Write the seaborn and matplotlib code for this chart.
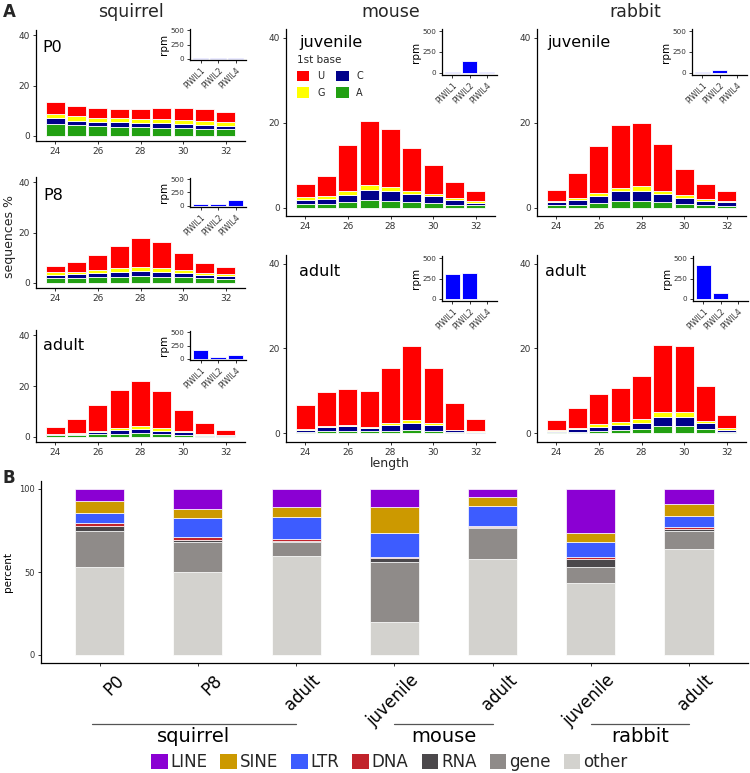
import numpy as np
import pandas as pd
import matplotlib
matplotlib.use("Agg")
import matplotlib.pyplot as plt
import matplotlib.patches as mpatches
import matplotlib.transforms as mtransforms
import seaborn as sns

# ── Data: panel A (% of sequences by length, split by 1st base) ──────────────
LENGTHS = list(range(24, 33))
BASES = ["U", "G", "C", "A"]
BASE_COLORS = {"U": "#FF0000", "G": "#FFFF00", "C": "#00008B", "A": "#22A012"}

sq_p0_A = [4.9, 4.2, 3.8, 3.6, 3.4, 3.3, 3.2, 2.9, 2.6]
sq_p0_C = [2.3, 1.9, 1.9, 1.8, 1.7, 1.7, 1.7, 1.6, 1.5]
sq_p0_G = [1.7, 1.8, 1.5, 1.6, 1.6, 1.6, 1.4, 1.4, 1.3]
sq_p0_U = [4.4, 3.8, 3.9, 3.8, 4.1, 4.6, 4.9, 4.6, 3.9]

sq_p8_A = [1.9, 2.1, 2.3, 2.5, 2.6, 2.5, 2.4, 2.0, 1.7]
sq_p8_C = [1.3, 1.3, 1.5, 1.9, 2.2, 2.0, 1.6, 1.2, 1.1]
sq_p8_G = [1.0, 1.1, 1.2, 1.4, 1.6, 1.5, 1.2, 0.9, 0.8]
sq_p8_U = [2.6, 3.7, 5.9, 8.9, 11.3, 10.3, 6.5, 3.7, 2.6]

sq_ad_A = [0.7, 0.8, 1.1, 1.3, 1.4, 1.3, 0.9, 0.5, 0.4]
sq_ad_C = [0.3, 0.5, 0.7, 1.3, 1.8, 1.2, 0.9, 0.4, 0.3]
sq_ad_G = [0.3, 0.4, 0.7, 1.0, 1.0, 0.9, 0.6, 0.4, 0.1]
sq_ad_U = [2.5, 5.4, 10.1, 15.0, 17.6, 14.6, 8.3, 4.0, 1.8]

mo_ju_A = [0.8, 0.8, 1.3, 1.8, 1.6, 1.3, 1.0, 0.7, 0.5]
mo_ju_C = [1.0, 1.2, 1.7, 2.3, 2.2, 1.8, 1.6, 1.0, 0.6]
mo_ju_G = [0.6, 0.7, 0.9, 1.2, 1.0, 0.7, 0.6, 0.5, 0.5]
mo_ju_U = [3.1, 4.6, 10.85, 15.1, 13.6, 10.2, 6.7, 3.9, 2.2]

mo_ad_A = [0.4, 0.5, 0.5, 0.5, 0.7, 0.9, 0.7, 0.3, 0.2]
mo_ad_C = [0.5, 1.1, 1.2, 0.9, 1.3, 1.6, 1.3, 0.5, 0.2]
mo_ad_G = [0.2, 0.2, 0.3, 0.2, 0.4, 0.6, 0.4, 0.1, 0.1]
mo_ad_U = [5.6, 8.0, 8.4, 8.4, 13.1, 17.5, 13.1, 6.3, 2.9]

ra_ju_A = [0.5, 0.7, 1.0, 1.5, 1.6, 1.2, 0.8, 0.5, 0.4]
ra_ju_C = [0.8, 1.0, 1.7, 2.3, 2.4, 1.9, 1.5, 1.0, 0.8]
ra_ju_G = [0.3, 0.5, 0.8, 0.9, 1.1, 0.9, 0.6, 0.5, 0.4]
ra_ju_U = [2.5, 5.8, 10.9, 14.6, 14.7, 10.9, 6.1, 3.6, 2.3]

ra_ad_A = [0.3, 0.4, 0.6, 0.8, 1.0, 1.8, 1.8, 1.0, 0.4]
ra_ad_C = [0.3, 0.6, 1.0, 1.2, 1.5, 2.0, 2.0, 1.4, 0.5]
ra_ad_G = [0.2, 0.4, 0.6, 0.6, 0.8, 1.3, 1.3, 0.6, 0.35]
ra_ad_U = [2.3, 4.6, 7.0, 8.1, 10.3, 15.8, 15.6, 8.2, 3.05]

# insets: PIWI expression (rpm)
PIWI = ["PIWIL1", "PIWIL2", "PIWIL4"]
sq_p0_rpm = [4, 4, 3]
sq_p8_rpm = [30, 37, 105]
sq_ad_rpm = [156, 37, 62]
mo_ju_rpm = [5, 139, 6]
mo_ad_rpm = [301, 320, 2]
ra_ju_rpm = [12, 32, 1]
ra_ad_rpm = [410, 74, 1]

# ── Data: panel B (annotation composition, percent) ─────────────────────────
SAMPLES = ["P0", "P8", "adult", "juvenile", "adult", "juvenile", "adult"]
SAMPLE_IDS = ["sq_P0", "sq_P8", "sq_adult", "mo_juvenile", "mo_adult", "ra_juvenile", "ra_adult"]
GROUPS = ["squirrel", "mouse", "rabbit"]
CLASSES = ["LINE", "SINE", "LTR", "DNA", "RNA", "gene", "other"]
CLASS_COLORS = {"LINE": "#8B00D3", "SINE": "#CC9900", "LTR": "#3D5CFF", "DNA": "#C1232B",
                "RNA": "#4B484B", "gene": "#8F8B89", "other": "#D3D2CE"}
pct_LINE = [7.4, 11.9, 10.9, 10.9, 4.8, 26.6, 9.1]
pct_SINE = [7.3, 5.6, 6.0, 15.7, 5.7, 5.6, 7.4]
pct_LTR = [6.0, 11.5, 13.1, 14.6, 11.8, 9.0, 6.6]
pct_DNA = [1.4, 1.6, 1.6, 0.4, 0.6, 0.9, 1.2]
pct_RNA = [3.1, 1.4, 0.4, 2.5, 0.6, 4.8, 1.1]
pct_gene = [21.9, 17.7, 8.6, 35.8, 18.6, 9.8, 10.6]
pct_other = [52.9, 50.3, 59.4, 20.1, 57.9, 43.3, 64.0]

# ── Style ────────────────────────────────────────────────────────────────────
TEXT = "#000000"
TICK = "#333333"
sns.set_style("ticks")
plt.rcParams.update({
    "font.family": "DejaVu Sans",
    "axes.linewidth": 0.9,
    "axes.edgecolor": "#000000",
    "xtick.color": TICK,
    "ytick.color": TICK,
    "xtick.major.size": 2.5,
    "ytick.major.size": 2.5,
    "xtick.major.width": 0.7,
    "ytick.major.width": 0.7,
    "xtick.major.pad": 2,
    "ytick.major.pad": 2,
})

W, H = 750, 773
fig = plt.figure(figsize=(7.5, 7.73), dpi=100)


def px_axes(x0, y0, x1, y1):
    return fig.add_axes([x0 / W, 1 - y1 / H, (x1 - x0) / W, (y1 - y0) / H])


def fig_text(x, y, s, **kw):
    fig.text(x / W, 1 - y / H, s, **kw)


def length_panel(box, a, c, g, u):
    ax = px_axes(*box)
    df = pd.DataFrame({
        "length": LENGTHS * 4,
        "base": ["A"] * 9 + ["C"] * 9 + ["G"] * 9 + ["U"] * 9,
        "pct": a + c + g + u,
    })
    sns.histplot(data=df, x="length", weights="pct", hue="base", hue_order=BASES,
                 multiple="stack", discrete=True, shrink=0.9, palette=BASE_COLORS,
                 edgecolor="white", linewidth=0.6, alpha=1, legend=False, ax=ax)
    ax.set_xlim(23.1, 32.9)
    ax.set_ylim(-2, 42)
    ax.set_xticks([24, 26, 28, 30, 32])
    ax.set_yticks([0, 20, 40])
    ax.tick_params(labelsize=6.5)
    ax.set_xlabel("")
    ax.set_ylabel("")
    ax.set_facecolor("none")
    sns.despine(ax=ax)
    return ax


def rpm_inset(box, vals):
    iax = px_axes(*box)
    sns.barplot(x=PIWI, y=vals, color="#0000FF", saturation=1, width=0.9,
                edgecolor="white", linewidth=0.6, ax=iax)
    iax.set_ylim(-25, 525)
    iax.set_xlim(-0.6, 2.6)
    iax.set_yticks([0, 250, 500])
    iax.tick_params(labelsize=5.2, length=2)
    iax.set_xticks(range(3))
    iax.set_xticklabels(PIWI, rotation=45, ha="right", va="top", rotation_mode="anchor",
                        fontsize=5.5)
    iax.set_ylabel("rpm", fontsize=7.5, labelpad=1, color=TEXT)
    iax.set_xlabel("")
    iax.set_facecolor("none")
    sns.despine(ax=iax)
    return iax


# ── Panel A ─────────────────────────────────────────────────────────────────
panels = [
    ((36, 30, 245, 141), (190, 29, 246, 60), sq_p0_A, sq_p0_C, sq_p0_G, sq_p0_U, sq_p0_rpm, "P0", (42, 47)),
    ((36, 177, 245, 288), (190, 178, 246, 207), sq_p8_A, sq_p8_C, sq_p8_G, sq_p8_U, sq_p8_rpm, "P8", (43, 195)),
    ((36, 330, 245, 442), (190, 331, 246, 360), sq_ad_A, sq_ad_C, sq_ad_G, sq_ad_U, sq_ad_rpm, "adult", (43, 346)),
    ((286, 29, 495, 216), (442, 29, 497, 75), mo_ju_A, mo_ju_C, mo_ju_G, mo_ju_U, mo_ju_rpm, "juvenile", (299, 43)),
    ((286, 255, 495, 442), (442, 256, 497, 301), mo_ad_A, mo_ad_C, mo_ad_G, mo_ad_U, mo_ad_rpm, "adult", (299, 272)),
    ((537, 29, 746, 216), (692, 29, 747, 75), ra_ju_A, ra_ju_C, ra_ju_G, ra_ju_U, ra_ju_rpm, "juvenile", (547, 43)),
    ((537, 255, 746, 442), (693, 256, 748, 301), ra_ad_A, ra_ad_C, ra_ad_G, ra_ad_U, ra_ad_rpm, "adult", (545, 272)),
]
axes_a = []
for box, ibox, a, c, g, u, rpm, label, (lx, ly) in panels:
    axes_a.append(length_panel(box, a, c, g, u))
    rpm_inset(ibox, rpm)
    fig_text(lx, ly, label, fontsize=11.5, ha="left", va="center", color=TEXT)

# column titles and axis labels
fig_text(131, 12, "squirrel", fontsize=12.5, ha="center", va="center")
fig_text(391, 12, "mouse", fontsize=12.5, ha="center", va="center")
fig_text(635, 12, "rabbit", fontsize=12.5, ha="center", va="center")
fig_text(10, 237, "sequences %", fontsize=9, rotation=90, ha="center", va="center")
fig_text(390, 463, "length", fontsize=9, ha="center", va="center")
fig_text(3, 12, "A", fontsize=12, fontweight="bold", ha="left", va="center")
fig_text(3, 478, "B", fontsize=12, fontweight="bold", ha="left", va="center")

# 1st base legend inside mouse juvenile
base_handles = [mpatches.Patch(facecolor=BASE_COLORS[b], edgecolor="none") for b in BASES]
fig.legend(base_handles, BASES, title="1st base", loc="upper left",
           bbox_to_anchor=(297 / W, 1 - 55 / H), ncol=2, frameon=False,
           fontsize=7, title_fontsize=7.5, alignment="left",
           handlelength=1.27, handleheight=1.27, handletextpad=0.8,
           columnspacing=1.2, labelspacing=0.6, borderpad=0, borderaxespad=0)

# ── Panel B ─────────────────────────────────────────────────────────────────
axb = px_axes(40.7, 480.7, 748, 663.3)
pct_by_class = [pct_LINE, pct_SINE, pct_LTR, pct_DNA, pct_RNA, pct_gene, pct_other]
dfb = pd.DataFrame({
    "sample": SAMPLE_IDS * len(CLASSES),
    "cls": np.repeat(CLASSES, len(SAMPLE_IDS)),
    "pct": np.concatenate(pct_by_class),
})
sns.histplot(data=dfb, x="sample", weights="pct", hue="cls", hue_order=CLASSES,
             multiple="stack", shrink=0.5, palette=CLASS_COLORS, edgecolor="white",
             linewidth=0.5, alpha=1, legend=False, ax=axb)
axb.set_xlim(-0.6, 6.6)
axb.set_ylim(-5, 105)
axb.set_yticks([0, 50, 100])
axb.set_xticks(range(len(SAMPLES)))
axb.set_xticklabels(SAMPLES, rotation=45, ha="right", va="top", rotation_mode="anchor",
                    fontsize=12, color=TEXT)
shift = mtransforms.ScaledTranslation(0.15, -0.02, fig.dpi_scale_trans)
for lab in axb.get_xticklabels():
    lab.set_transform(lab.get_transform() + shift)
axb.tick_params(axis="y", labelsize=6)
axb.set_xlabel("")
axb.set_ylabel("percent", fontsize=7.5, labelpad=4, color=TEXT)
axb.set_facecolor("none")
sns.despine(ax=axb)

# species group brackets under the sample labels
trans = mtransforms.blended_transform_factory(axb.transData, axb.transAxes)
spans = [(-0.08, 2.0), (3.0, 4.0), (5.0, 6.0)]
for (x0, x1), grp in zip(spans, GROUPS):
    axb.plot([x0, x1], [-0.334, -0.334], color="#555555", lw=0.9, transform=trans, clip_on=False)
    axb.text((x0 + x1) / 2, -0.40, grp, transform=trans, ha="center", va="center",
             fontsize=14, color=TEXT)

class_handles = [mpatches.Patch(facecolor=CLASS_COLORS[c], edgecolor="none") for c in CLASSES]
fig.legend(class_handles, CLASSES, loc="center", bbox_to_anchor=(389 / W, 1 - 762 / H),
           ncol=7, frameon=False, fontsize=12, handlelength=1.0, handleheight=1.0,
           handletextpad=0.15, columnspacing=0.8, borderpad=0, borderaxespad=0)

fig.savefig("out.png", dpi=100, facecolor="white")
